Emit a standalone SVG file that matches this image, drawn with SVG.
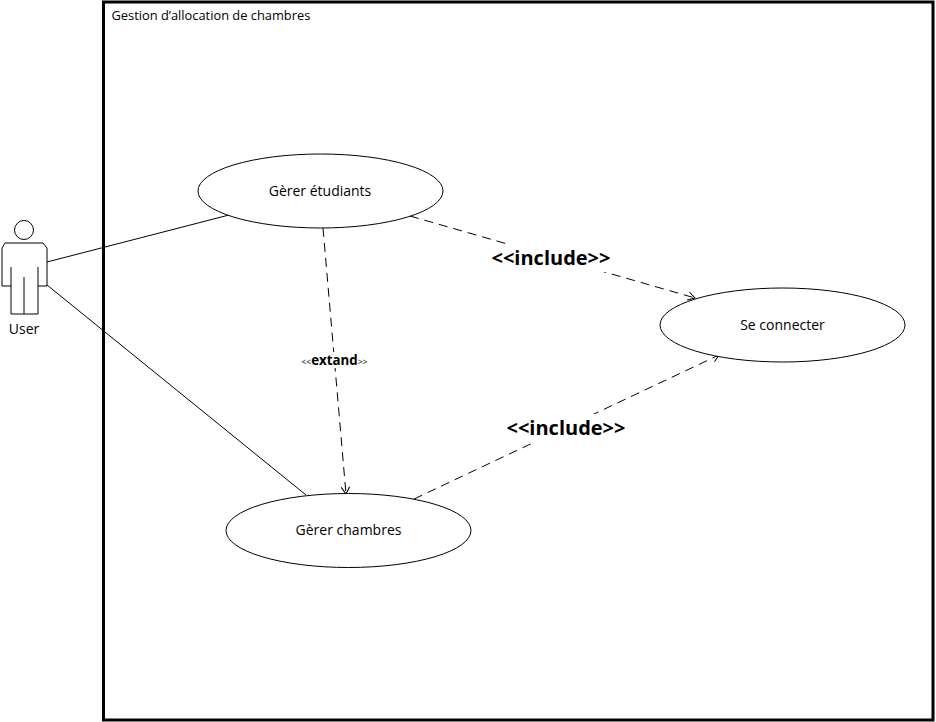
<svg xmlns="http://www.w3.org/2000/svg" width="936" height="722" viewBox="0 0 936 722">
<style>
text{font-family:"Open Sans","Noto Sans","DejaVu Sans",sans-serif;fill:#000}
.s{fill:none;stroke:#000;stroke-width:1}
.uc{fill:#fff;stroke:#000;stroke-width:1}
.l{font-size:14px;text-anchor:middle}
.inc{font-size:20px;font-weight:700;text-anchor:middle}
.d{fill:none;stroke:#000;stroke-width:1;stroke-dasharray:9 6}
</style>
<defs>
<marker id="open" markerWidth="12" markerHeight="12" refX="10" refY="5" orient="auto" markerUnits="userSpaceOnUse"><path d="M3 0.8L10 5L3 9.2" fill="none" stroke="#000"/></marker>
</defs>
<rect width="936" height="722" fill="#fff"/>
<g id="boundary">
<rect x="103.500" y="2" width="829.500" height="718" fill="none" stroke="#000" stroke-width="3"/>
<text x="111.500" y="20" font-size="12.850">Gestion d’allocation de chambres</text>
</g>
<g id="connectors">
<path class="s" d="M47 262L229 215"/>
<path class="s" d="M47 285L306 495"/>
<path class="d" d="M410 216L695 298" marker-end="url(#open)"/>
<path class="d" d="M323 228L346 494" marker-end="url(#open)"/>
<path class="d" d="M414 499L719 355" marker-end="url(#open)"/>
<rect x="490" y="244" width="122" height="28" fill="#fff"/>
<rect x="505" y="414" width="122" height="28" fill="#fff"/>
<rect x="300" y="352" width="70" height="16" fill="#fff"/>
<text class="inc" x="551" y="265">&lt;&lt;include&gt;&gt;</text>
<text class="inc" x="566" y="435">&lt;&lt;include&gt;&gt;</text>
<text x="334.500" y="365" text-anchor="middle" font-size="8.500">&lt;&lt;<tspan font-size="13.300" font-weight="700">extand</tspan>&gt;&gt;</text>
</g>
<g id="user">
<circle cx="24" cy="230" r="9.500" fill="#fff" stroke="#000"/>
<path class="s" d="M5 243H43L47 248V286H38V314H11V286H2V248Z"/>
<path class="s" d="M11 267V286M38 267V286M24 277V314"/>
<text class="l" x="24" y="334">User</text>
</g>
<g id="gerer-etudiants">
<ellipse class="uc" cx="320.500" cy="191" rx="122.500" ry="37"/>
<text class="l" x="320" y="196">Gèrer étudiants</text>
</g>
<g id="se-connecter">
<ellipse class="uc" cx="782.500" cy="325" rx="122.500" ry="37"/>
<text class="l" x="782.500" y="330">Se connecter</text>
</g>
<g id="gerer-chambres">
<ellipse class="uc" cx="348.500" cy="530.500" rx="122.500" ry="37"/>
<text class="l" x="348.500" y="535">Gèrer chambres</text>
</g>
</svg>
